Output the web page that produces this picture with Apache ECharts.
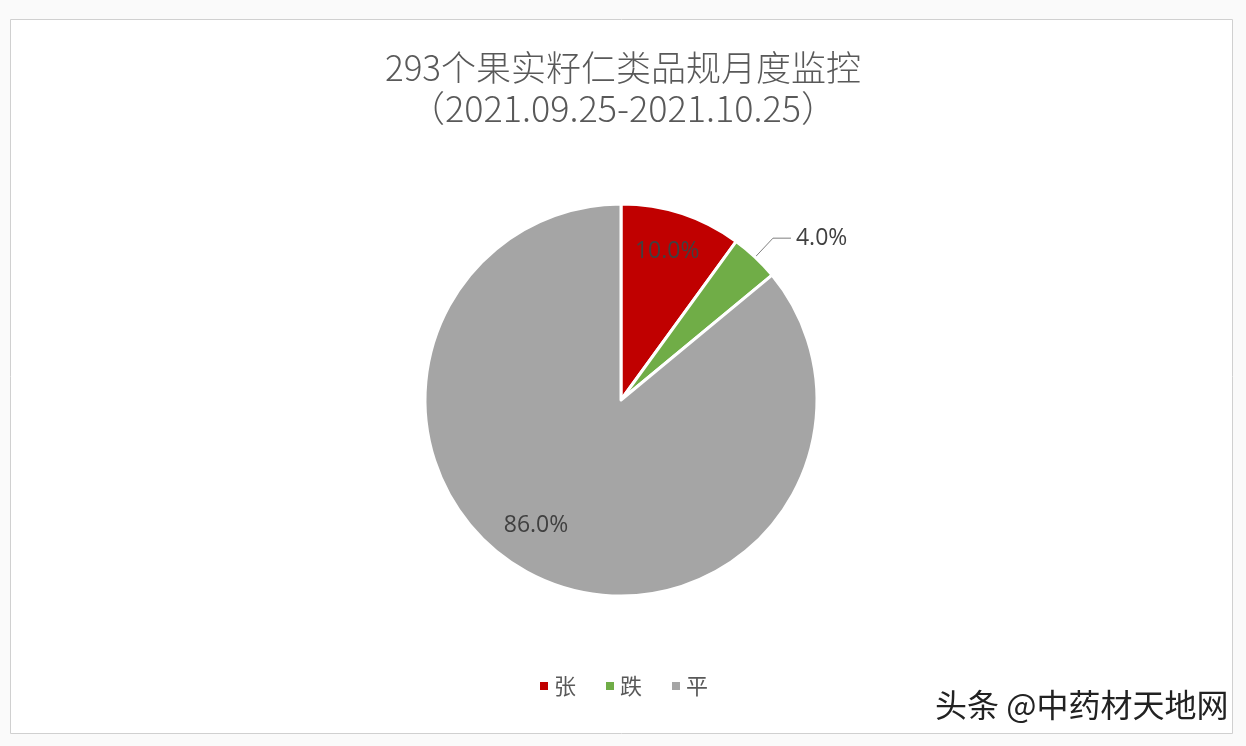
<!DOCTYPE html>
<html><head><meta charset="utf-8">
<script src="https://cdn.jsdelivr.net/npm/echarts@6/dist/echarts.min.js"></script>
<style>html,body{margin:0;padding:0;background:#fafafa}#c{width:1246px;height:746px}</style>
</head><body><div id="c"></div>
<script>
const titleLines = ['293个果实籽仁类品规月度监控', '（2021.09.25-2021.10.25）'];
const categories = ['张', '跌', '平'];
const values = [10.0, 4.0, 86.0];
const colors = ['#C00000', '#70AD47', '#A5A5A5'];
const watermark = '头条 @中药材天地网';
// label nudges (style only)
const labelShift = {0: [15, -52], 2: [-42, 34]};

const chart = echarts.init(document.getElementById('c'), null, {renderer: 'canvas'});
chart.setOption({
  backgroundColor: '#fafafa',
  animation: false,
  graphic: [
    {type: 'rect', shape: {x: 10.5, y: 19.5, width: 1222, height: 714},
     style: {fill: '#ffffff', stroke: '#d0d0d0', lineWidth: 1}, z: -10},
    {type: 'text', left: 934, top: 688, z: 100,
     style: {text: watermark, font: '32px "Noto Sans CJK SC"', fill: '#222',
       stroke: '#ffffff', lineWidth: 2, shadowColor: 'rgba(0,0,0,0.5)', shadowOffsetX: 1, shadowOffsetY: 1, shadowBlur: 1}}
  ],
  title: {
    text: '{a|' + titleLines[0] + '}\n{b|' + titleLines[1] + '}',
    left: 'center', top: 42,
    textStyle: {
      rich: {
        a: {fontFamily: '"Noto Sans CJK SC"', fontSize: 35, fontWeight: 300, color: '#595959', lineHeight: 41},
        b: {fontFamily: '"Noto Sans CJK SC"', fontSize: 36, fontWeight: 300, color: '#595959', lineHeight: 41}
      }
    }
  },
  legend: {
    data: categories, bottom: 44, left: 'center',
    icon: 'rect', itemWidth: 10, itemHeight: 10, itemGap: 28,
    textStyle: {fontFamily: '"Noto Sans CJK SC"', fontSize: 22, color: '#595959'}
  },
  series: [{
    type: 'pie',
    center: [621, 400],
    radius: [0, 196],
    startAngle: 90,
    clockwise: true,
    avoidLabelOverlap: false,
    itemStyle: {borderColor: '#ffffff', borderWidth: 3},
    label: {
      fontFamily: '"Open Sans", "Noto Sans"', fontSize: 23, color: '#404040',
      formatter: p => p.value.toFixed(1) + '%'
    },
    labelLine: {show: false},
    labelLayout: p => {
      const s = labelShift[p.dataIndex];
      return s ? {dx: s[0], dy: s[1]} : {};
    },
    data: categories.map((c, i) => {
      const d = {name: c, value: values[i], itemStyle: {color: colors[i]}};
      if (i === 1) {
        d.label = {position: 'outside', alignTo: 'none', distanceToLabelLine: 5};
        d.labelLine = {show: true, length: 26, length2: 18, lineStyle: {color: '#7f7f7f', width: 1}};
      } else {
        d.label = {position: 'inside'};
      }
      return d;
    })
  }]
});
</script></body></html>
